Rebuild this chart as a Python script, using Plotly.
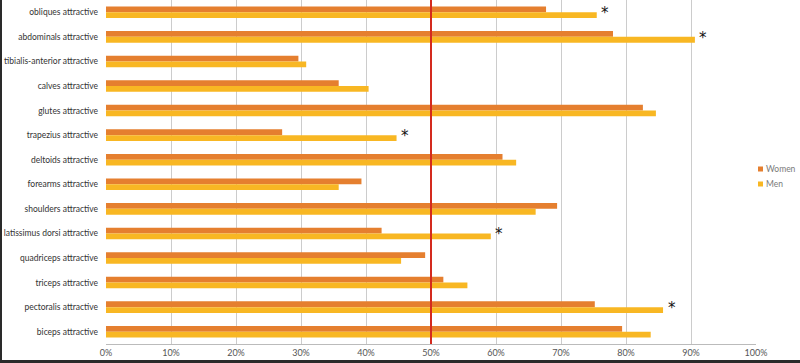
import plotly.graph_objects as go

categories = ["obliques attractive", "abdominals attractive", "tibialis-anterior attractive",
              "calves attractive", "glutes attractive", "trapezius attractive",
              "deltoids attractive", "forearms attractive", "shoulders attractive",
              "latissimus dorsi attractive", "quadriceps attractive", "triceps attractive",
              "pectoralis attractive", "biceps attractive"]
women = [67.7, 78.0, 29.6, 35.8, 82.6, 27.1, 61.0, 39.3, 69.4, 42.4, 49.1, 51.9, 75.2, 79.4]
men = [75.5, 90.6, 30.8, 40.4, 84.6, 44.7, 63.1, 35.8, 66.1, 59.2, 45.4, 55.6, 85.7, 83.8]
significant = ["obliques attractive", "abdominals attractive", "trapezius attractive",
               "latissimus dorsi attractive", "pectoralis attractive"]
tick_vals = [0, 10, 20, 30, 40, 50, 60, 70, 80, 90, 100]
tick_text = ["0%", "10%", "20%", "30%", "40%", "50%", "60%", "70%", "80%", "90%", "100%"]
series_names = ["Women", "Men"]
series_colors = ["#E57F2F", "#F8B723"]

L, R, T, B, W, H = 106, 44, 0, 19, 800, 363
PW, PH = W - L - R, H - T - B


def px(x):
    return (x - L) / PW


def py(y):
    return (H - B - y) / PH


fig = go.Figure()
for name, vals, col in zip(series_names, [women, men], series_colors):
    fig.add_trace(go.Bar(y=categories, x=vals, name=name, orientation="h",
                         marker=dict(color=col, line=dict(width=0)), showlegend=False))

men_map = dict(zip(categories, men))
for c in significant:
    fig.add_annotation(x=men_map[c] + 1.3, y=c, text="*", showarrow=False,
                       font=dict(size=15, color="#111111", family="DejaVu Sans"),
                       xanchor="center", yanchor="middle", yshift=-1)

fig.add_shape(type="line", xref="x", yref="paper", x0=50, x1=50, y0=0, y1=1,
              line=dict(color="#D42A1E", width=2))

# legend (drawn manually to match compact layout)
for i, (name, col) in enumerate(zip(series_names, series_colors)):
    yc = 169 + i * 15
    fig.add_shape(type="rect", xref="paper", yref="paper",
                  x0=px(758), x1=px(763), y0=py(yc + 2.5), y1=py(yc - 2.5),
                  fillcolor=col, line=dict(width=0))
    fig.add_annotation(xref="paper", yref="paper", x=px(764), y=py(yc), text=name,
                       showarrow=False, xanchor="left", yanchor="middle",
                       font=dict(size=8.5, color="#7a7a7a"))

# dark frame edges of the photo
fig.add_shape(type="rect", xref="paper", yref="paper",
              x0=px(0), x1=px(2), y0=py(363), y1=py(-2),
              fillcolor="#2a2a2a", line=dict(width=0))
fig.add_shape(type="rect", xref="paper", yref="paper",
              x0=px(0), x1=px(800), y0=py(363), y1=py(360),
              fillcolor="#2a2a2a", line=dict(width=0))

fig.update_layout(
    width=W, height=H,
    margin=dict(l=L, r=R, t=T, b=B, autoexpand=False),
    paper_bgcolor="white", plot_bgcolor="white",
    barmode="group", bargap=0.53, bargroupgap=0,
    font=dict(family="Lato", color="#404040"),
    showlegend=False,
    xaxis=dict(range=[0, 100], tickvals=tick_vals, ticktext=tick_text,
               showgrid=True, gridcolor="#cccccc", gridwidth=1,
               showline=True, linecolor="#bbbbbb", linewidth=1,
               zeroline=False, ticks="", automargin=False,
               tickfont=dict(size=9, color="#555555")),
    yaxis=dict(autorange="reversed", showgrid=False, ticks="", showline=False,
               automargin=False, ticklabelstandoff=7,
               tickfont=dict(size=8.5, color="#333333")),
)

fig.write_html("out.html")
